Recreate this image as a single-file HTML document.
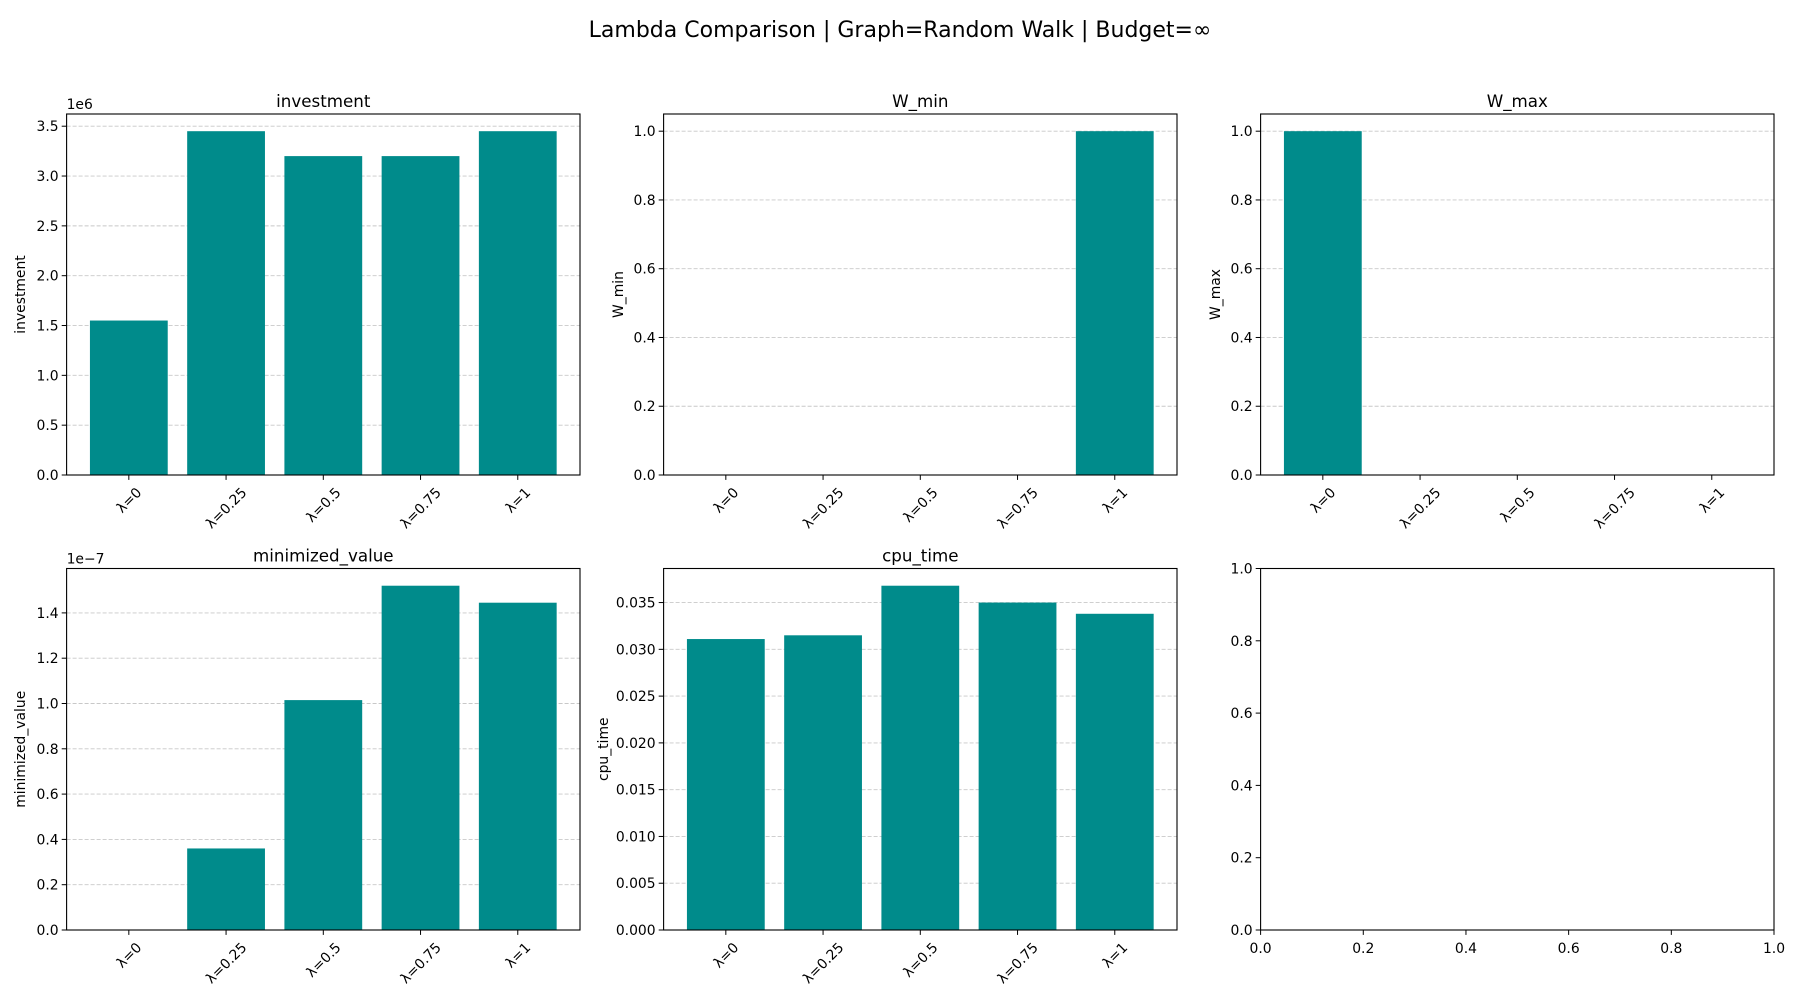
<!DOCTYPE html>
<html><head><meta charset="utf-8"><style>
body{margin:0;background:#fff;}
svg text{font-family:"DejaVu Sans","Liberation Sans",sans-serif;fill:#000;}
</style></head><body>
<svg id="fig" width="1800" height="1000" xmlns="http://www.w3.org/2000/svg">
<text x="900" y="37" font-size="22" text-anchor="middle">Lambda Comparison | Graph=Random Walk | Budget=∞</text>
</svg>
<script>
const categories = ["λ=0","λ=0.25","λ=0.5","λ=0.75","λ=1"];
const investmentValues = [1.55e6, 3.45e6, 3.2e6, 3.2e6, 3.45e6];
const wMinValues = [0, 0, 0, 0, 1];
const wMaxValues = [1, 0, 0, 0, 0];
const minimizedValues = [0, 0.36e-7, 1.015e-7, 1.52e-7, 1.445e-7];
const cpuTimeValues = [0.0311, 0.0315, 0.0368, 0.0350, 0.0338];
const investmentTicks = [0,0.5,1.0,1.5,2.0,2.5,3.0,3.5];
const unitTicks = [0,0.2,0.4,0.6,0.8,1.0];
const minimizedTicks = [0,0.2,0.4,0.6,0.8,1.0,1.2,1.4];
const cpuTicks = [0,0.005,0.010,0.015,0.020,0.025,0.030,0.035];

const NS="http://www.w3.org/2000/svg";
const svg=document.getElementById('fig');
function el(tag,attrs,parent){const e=document.createElementNS(NS,tag);for(const k in attrs)e.setAttribute(k,attrs[k]);(parent||svg).appendChild(e);return e;}

const cols=[[66.6,580],[663.6,1177],[1260.6,1774]];
const rows=[[114,475],[568.5,930]];

function panel(opts){
  const [x0,x1]=cols[opts.c],[y0,y1]=rows[opts.r];
  const g=el('g',{});
  
  
  const ymax=opts.ymax, ymin=0;
  const ys=v=>y1-(v-ymin)/(ymax-ymin)*(y1-y0);
  const xmin=opts.xmin, xmax=opts.xmax;
  const xs=v=>x0+(v-xmin)/(xmax-xmin)*(x1-x0);
  // grid
  if(opts.grid){
    opts.ticks.forEach(t=>{
      const v=t*opts.scale;
      const l=el('line',{x1:x0,x2:x1,y1:ys(v),y2:ys(v),stroke:'#b0b0b0','stroke-opacity':0.7,'stroke-dasharray':'4,2','stroke-width':0.9},g);
      
      
    });
  }
  // bars
  if(opts.values){
    opts.values.forEach((v,i)=>{
      const top=ys(Math.max(v,0)), bot=ys(0);
      const r=el('rect',{x:xs(i-0.4),y:top,width:xs(i+0.4)-xs(i-0.4),height:Math.max(bot-top,0),fill:'#008b8b'},g);
      
      
    });
  }
  // y ticks
  opts.ticks.forEach(t=>{
    const y=ys(t*opts.scale);
    el('line',{x1:x0-4.9,x2:x0,y1:y,y2:y,stroke:'#000','stroke-width':1},g);
    const tx=el('text',{x:x0-8,y:y+5,'font-size':13.9,'text-anchor':'end'},g);
    tx.textContent=opts.fmt(t);
    
    
  });
  // x ticks
  if(opts.values){
    categories.forEach((c,i)=>{
      const x=xs(i);
      el('line',{x1:x,x2:x,y1:y1,y2:y1+4.9,stroke:'#000','stroke-width':1},g);
      const tx=el('text',{x:0,y:0,'font-size':13.9,'text-anchor':'middle'},g);
      tx.textContent=c;
      
      
      const w=tx.getComputedTextLength(), h=13.9;
      const bh=(w+h)/Math.SQRT2;
      const cy=y1+10+bh/2;
      tx.setAttribute('transform','translate('+x+','+cy+') rotate(-45) translate(0,'+(h*0.35)+')');
    });
  } else {
    opts.xticks.forEach(t=>{
      const x=xs(t);
      el('line',{x1:x,x2:x,y1:y1,y2:y1+4.9,stroke:'#000','stroke-width':1},g);
      const tx=el('text',{x:x,y:y1+23,'font-size':13.9,'text-anchor':'middle'},g);
      tx.textContent=t.toFixed(1);
      
      
    });
  }
  // frame
  const f=el('rect',{x:x0,y:y0,width:x1-x0,height:y1-y0,fill:'none',stroke:'#000','stroke-width':1.1},g);
  
  
  if(opts.title){
    const t=el('text',{x:(x0+x1)/2,y:y0-7,'font-size':16.7,'text-anchor':'middle'},g);
    t.textContent=opts.title;
    
    
    const yl=el('text',{x:0,y:0,'font-size':13.9,'text-anchor':'middle',transform:'translate('+(opts.ylabX)+','+((y0+y1)/2)+') rotate(-90)'},g);
    yl.textContent=opts.title;
    
    
  }
  if(opts.offset){
    const o=el('text',{x:x0,y:y0-5,'font-size':13.9},g);
    o.textContent=opts.offset;
    
    
  }
}
const mx=a=>Math.max(...a)*1.05;
const f1=t=>t.toFixed(1), f3=t=>t.toFixed(3);
panel({name:'investment',c:0,r:0,values:investmentValues,ymax:mx(investmentValues),xmin:-0.64,xmax:4.64,ticks:investmentTicks,scale:1e6,fmt:f1,grid:true,title:'investment',offset:'1e6',ylabX:25});
panel({name:'w-min',c:1,r:0,values:wMinValues,ymax:mx(wMinValues),xmin:-0.64,xmax:4.64,ticks:unitTicks,scale:1,fmt:f1,grid:true,title:'W_min',ylabX:623});
panel({name:'w-max',c:2,r:0,values:wMaxValues,ymax:mx(wMaxValues),xmin:-0.64,xmax:4.64,ticks:unitTicks,scale:1,fmt:f1,grid:true,title:'W_max',ylabX:1220});
panel({name:'minimized-value',c:0,r:1,values:minimizedValues,ymax:mx(minimizedValues),xmin:-0.64,xmax:4.64,ticks:minimizedTicks,scale:1e-7,fmt:f1,grid:true,title:'minimized_value',offset:'1e−7',ylabX:25});
panel({name:'cpu-time',c:1,r:1,values:cpuTimeValues,ymax:mx(cpuTimeValues),xmin:-0.64,xmax:4.64,ticks:cpuTicks,scale:1,fmt:f3,grid:true,title:'cpu_time',ylabX:608});
panel({name:'empty',c:2,r:1,values:null,ymax:1,xmin:0,xmax:1,ticks:unitTicks,xticks:unitTicks,scale:1,fmt:f1,grid:false});
</script>
</body></html>
